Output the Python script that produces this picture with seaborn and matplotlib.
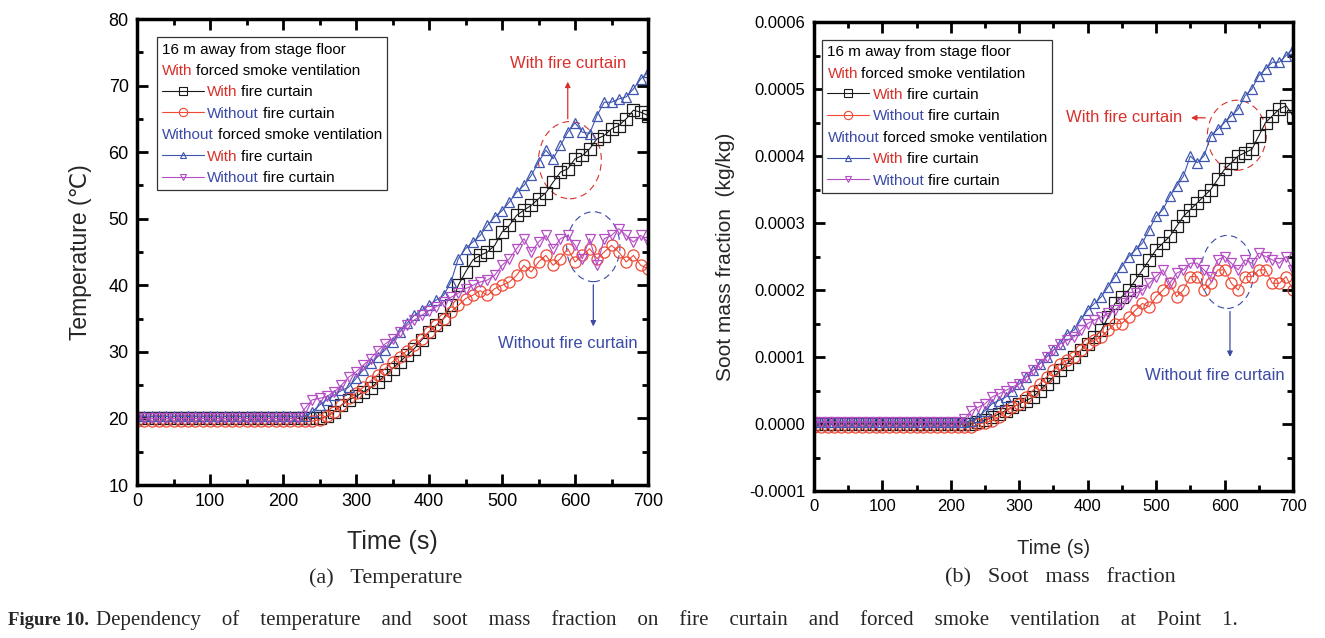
import numpy as np
import pandas as pd
import matplotlib
matplotlib.use("Agg")
import matplotlib.pyplot as plt
import seaborn as sns
from matplotlib.patches import Ellipse
from matplotlib.lines import Line2D
from matplotlib.ticker import MultipleLocator, FormatStrFormatter
from matplotlib.offsetbox import TextArea, HPacker, VPacker, DrawingArea, AnchoredOffsetbox

# ---- data (10 s steps) ----
time_s = list(range(0, 701, 10))

# temperature (degC)
temp_vent_curtain = [20.0] * 26 + [
    20.3, 21.0, 22.0, 22.8, 23.3, 24.0, 24.6, 25.5, 26.5, 27.5, 28.5, 29.5,
    30.5, 31.8, 33.0, 34.0, 35.0, 37.0, 40.0, 42.0, 43.8, 44.5, 45.0, 46.0,
    48.0, 49.0, 50.5, 51.3, 52.0, 53.0, 53.9, 55.5, 57.0, 57.5, 59.0, 59.5,
    60.5, 62.0, 62.5, 63.5, 64.0, 65.0, 66.3, 66.0, 65.5]
temp_vent_nocurtain = [19.6] * 25 + [
    19.8, 20.3, 21.0, 22.0, 23.0, 23.8, 24.7, 25.6, 26.6, 27.5, 28.5, 29.3,
    30.2, 31.0, 32.0, 33.0, 34.0, 35.0, 36.0, 37.0, 38.0, 38.5, 39.2, 38.5,
    39.5, 40.0, 40.5, 41.5, 43.0, 42.0, 43.5, 44.5, 43.0, 44.0, 45.5, 43.5,
    44.5, 45.5, 44.0, 45.0, 46.0, 45.0, 43.5, 44.5, 43.0, 42.5]
temp_novent_curtain = [20.3] * 24 + [
    21.0, 22.0, 22.8, 23.5, 24.2, 24.7, 26.0, 27.3, 28.3, 29.3, 30.3, 31.5,
    33.0, 34.3, 35.5, 36.3, 37.0, 37.8, 38.5, 40.5, 44.0, 45.5, 46.5, 47.5,
    49.0, 50.3, 51.2, 52.5, 54.0, 55.0, 56.5, 58.5, 60.3, 59.0, 61.0, 63.0,
    64.4, 63.0, 62.8, 65.5, 67.5, 67.5, 68.0, 68.3, 69.5, 71.0, 72.0]
temp_novent_nocurtain = [20.0] * 23 + [
    21.5, 22.8, 23.0, 23.3, 24.0, 25.0, 26.2, 27.0, 28.0, 29.0, 30.2, 31.2,
    32.0, 33.0, 34.0, 34.8, 35.5, 36.2, 36.8, 37.5, 38.2, 38.8, 39.5, 40.0,
    40.5, 40.8, 41.5, 43.0, 44.0, 45.5, 47.0, 45.0, 46.5, 47.5, 45.5, 47.0,
    47.5, 46.0, 44.0, 47.0, 43.0, 47.0, 47.5, 48.5, 47.5, 46.5, 47.5, 46.5]

# soot mass fraction, in units of 1e-4 kg/kg
soot_vent_curtain = [0.0] * 24 + [
    0.03, 0.06, 0.1, 0.15, 0.2, 0.25, 0.3, 0.35, 0.4, 0.5, 0.6, 0.7, 0.8,
    0.9, 1.0, 1.1, 1.2, 1.3, 1.4, 1.6, 1.8, 1.9, 2.0, 2.15, 2.3, 2.45, 2.6,
    2.7, 2.8, 2.95, 3.1, 3.2, 3.3, 3.4, 3.5, 3.65, 3.8, 3.9, 4.0, 4.05, 4.1,
    4.3, 4.5, 4.6, 4.7, 4.75, 4.6]
soot_vent_nocurtain = [-0.05] * 24 + [
    0.0, 0.02, 0.05, 0.1, 0.2, 0.25, 0.3, 0.4, 0.5, 0.6, 0.7, 0.8, 0.9,
    0.95, 1.0, 1.1, 1.2, 1.25, 1.3, 1.4, 1.5, 1.5, 1.6, 1.7, 1.8, 1.75, 1.9,
    2.0, 2.1, 1.9, 2.0, 2.2, 2.2, 2.0, 2.1, 2.3, 2.3, 2.1, 2.0, 2.2, 2.2,
    2.3, 2.3, 2.1, 2.1, 2.2, 2.0]
soot_novent_curtain = [0.03] * 22 + [
    0.03, 0.05, 0.1, 0.2, 0.3, 0.35, 0.4, 0.5, 0.6, 0.7, 0.8, 0.9, 1.0,
    1.1, 1.2, 1.35, 1.4, 1.55, 1.7, 1.8, 1.9, 2.05, 2.2, 2.35, 2.5, 2.6,
    2.7, 2.9, 3.1, 3.2, 3.4, 3.55, 3.7, 4.0, 3.9, 4.0, 4.3, 4.4, 4.5, 4.6,
    4.7, 4.9, 5.0, 5.2, 5.3, 5.4, 5.4, 5.5, 5.6]
soot_novent_nocurtain = [0.03] * 22 + [
    0.08, 0.2, 0.25, 0.3, 0.4, 0.45, 0.5, 0.55, 0.6, 0.7, 0.8, 0.9, 1.0,
    1.1, 1.2, 1.25, 1.3, 1.4, 1.5, 1.55, 1.6, 1.65, 1.7, 1.8, 1.9, 1.95,
    2.0, 2.1, 2.2, 2.3, 2.1, 2.25, 2.3, 2.4, 2.4, 2.3, 2.2, 2.45, 2.5, 2.4,
    2.3, 2.45, 2.4, 2.55, 2.5, 2.45, 2.4, 2.5, 2.3]

# series styles: (color, marker)
series_style = {
    "vent_curtain": ("#1a1a1a", "s"),
    "vent_nocurtain": ("#ee4a36", "o"),
    "novent_curtain": ("#3f56b0", "^"),
    "novent_nocurtain": ("#b54ec4", "v"),
}
RED_TXT = "#d9302c"
BLUE_TXT = "#3a4aa6"

sns.set_theme(style="ticks")
plt.rcParams["font.family"] = ["Liberation Sans", "DejaVu Sans"]

fig = plt.figure(figsize=(13.25, 6.38), dpi=100)
ax1 = fig.add_axes([0.1034, 0.2398, 0.3857, 0.7304])
ax2 = fig.add_axes([0.6143, 0.2304, 0.3615, 0.7351])


def draw_series(ax, data):
    for key, vals in data.items():
        c, m = series_style[key]
        ms = 8 if m in ("s", "o") else 6.5
        sns.lineplot(x=time_s, y=vals, ax=ax, color=c, marker=m, mfc="none",
                     mec=c, mew=0.9, ms=ms, lw=0.8, estimator=None,
                     legend=False)


def style_axes(ax, labelsize):
    for sp in ax.spines.values():
        sp.set_linewidth(2.5)
        sp.set_color("black")
    ax.tick_params(which="both", direction="in", top=True, right=True,
                   width=2, colors="black", labelsize=labelsize, pad=6)
    ax.tick_params(which="major", length=8)
    ax.tick_params(which="minor", length=4)
    ax.set_xlim(0, 700)
    ax.xaxis.set_major_locator(MultipleLocator(100))
    ax.xaxis.set_minor_locator(MultipleLocator(50))


def legend_box(ax, anchor):
    fs = 11

    def txt(s, c="black"):
        return TextArea(s, textprops=dict(color=c, fontsize=fs))

    def handle(key):
        c, m = series_style[key]
        da = DrawingArea(30, 8, 0, 0)
        da.add_artist(Line2D([0, 30], [4, 4], color=c, lw=0.8))
        da.add_artist(Line2D([15], [4], color=c, marker=m, mfc="none",
                             ms=6 if m in ("s", "o") else 5, mew=0.8, lw=0))
        return da

    def row(children):
        return HPacker(children=children, align="baseline", pad=0, sep=2.5)

    rows = [
        row([txt("16 m away from stage floor")]),
        row([txt("With", RED_TXT), txt("forced smoke ventilation")]),
        row([handle("vent_curtain"), txt("With", RED_TXT), txt("fire curtain")]),
        row([handle("vent_nocurtain"), txt("Without", BLUE_TXT), txt("fire curtain")]),
        row([txt("Without", BLUE_TXT), txt("forced smoke ventilation")]),
        row([handle("novent_curtain"), txt("With", RED_TXT), txt("fire curtain")]),
        row([handle("novent_nocurtain"), txt("Without", BLUE_TXT), txt("fire curtain")]),
    ]
    box = VPacker(children=rows, align="left", pad=0, sep=5.3)
    anch = AnchoredOffsetbox(loc="upper left", child=box, pad=0.35,
                             borderpad=0, frameon=True,
                             bbox_to_anchor=anchor,
                             bbox_transform=ax.transAxes)
    anch.patch.set_boxstyle("square", pad=0)
    anch.patch.set_edgecolor("#333333")
    anch.patch.set_linewidth(0.9)
    ax.add_artist(anch)


# ---- (a) temperature ----
draw_series(ax1, {
    "vent_curtain": temp_vent_curtain,
    "vent_nocurtain": temp_vent_nocurtain,
    "novent_curtain": temp_novent_curtain,
    "novent_nocurtain": temp_novent_nocurtain,
})
style_axes(ax1, 13)
ax1.set_ylim(10, 80)
ax1.yaxis.set_major_locator(MultipleLocator(10))
ax1.yaxis.set_minor_locator(MultipleLocator(5))
ax1.set_xlabel("Time (s)", fontsize=18, labelpad=14)
ax1.set_ylabel("Temperature (\u2103)", fontsize=16.5, labelpad=12)
legend_box(ax1, (0.039, 0.961))

ax1.add_patch(Ellipse((593, 58.8), 86, 11.6, fill=False, ec=RED_TXT,
                      ls=(0, (6, 4)), lw=0.8))
ax1.annotate("", xy=(590, 71.0), xytext=(590, 64.6),
             arrowprops=dict(arrowstyle="-|>", color=RED_TXT, lw=0.9,
                             mutation_scale=8))
ax1.text(590, 73.3, "With fire curtain", color=RED_TXT, fontsize=12,
         ha="center", va="center")
ax1.add_patch(Ellipse((625, 45.8), 73, 10.5, fill=False, ec=BLUE_TXT,
                      ls=(0, (6, 4)), lw=0.8))
ax1.annotate("", xy=(625, 33.4), xytext=(625, 40.5),
             arrowprops=dict(arrowstyle="-|>", color=BLUE_TXT, lw=0.9,
                             mutation_scale=8))
ax1.text(590, 31.3, "Without fire curtain", color=BLUE_TXT, fontsize=12,
         ha="center", va="center")

# ---- (b) soot mass fraction ----
draw_series(ax2, {
    "vent_curtain": [v * 1e-4 for v in soot_vent_curtain],
    "vent_nocurtain": [v * 1e-4 for v in soot_vent_nocurtain],
    "novent_curtain": [v * 1e-4 for v in soot_novent_curtain],
    "novent_nocurtain": [v * 1e-4 for v in soot_novent_nocurtain],
})
style_axes(ax2, 12)
ax2.set_ylim(-0.0001, 0.0006)
ax2.yaxis.set_major_locator(MultipleLocator(0.0001))
ax2.yaxis.set_minor_locator(MultipleLocator(0.00005))
ax2.yaxis.set_major_formatter(FormatStrFormatter("%.4f"))
ax2.set_xlabel("Time (s)", fontsize=14.5, labelpad=18)
ax2.set_ylabel("Soot mass fraction  (kg/kg)", fontsize=15, labelpad=10)
legend_box(ax2, (0.017, 0.962))

ax2.add_patch(Ellipse((618, 4.31e-4), 86, 1.045e-4, fill=False, ec=RED_TXT,
                      ls=(0, (6, 4)), lw=0.8))
ax2.annotate("", xy=(547, 4.57e-4), xytext=(576, 4.57e-4),
             arrowprops=dict(arrowstyle="-|>", color=RED_TXT, lw=0.9,
                             mutation_scale=8))
ax2.text(538, 4.57e-4, "With fire curtain", color=RED_TXT, fontsize=12,
         ha="right", va="center")
ax2.add_patch(Ellipse((604, 2.27e-4), 77, 1.09e-4, fill=False, ec=BLUE_TXT,
                      ls=(0, (6, 4)), lw=0.8))
ax2.annotate("", xy=(608, 0.96e-4), xytext=(608, 1.72e-4),
             arrowprops=dict(arrowstyle="-|>", color=BLUE_TXT, lw=0.9,
                             mutation_scale=8))
ax2.text(586, 0.73e-4, "Without fire curtain", color=BLUE_TXT, fontsize=12,
         ha="center", va="center")

# ---- captions ----
serif = ["Liberation Serif", "DejaVu Serif"]
fig.text(0.291, 0.094, "(a)   Temperature", family=serif, fontsize=16,
         ha="center", va="center")
fig.text(0.800, 0.094, "(b)   Soot   mass   fraction", family=serif,
         fontsize=16, ha="center", va="center")
fig.text(0.006, 0.028, "Figure 10.", family=serif, fontsize=13.5,
         weight="bold", ha="left", va="center")
fig.text(0.0725, 0.028,
         "Dependency    of    temperature    and    soot    mass    fraction    on    "
         "fire    curtain    and    forced    smoke    ventilation    at    Point    1.",
         family=serif, fontsize=15, ha="left", va="center")

fig.savefig("out.png", dpi=100, facecolor="white")
